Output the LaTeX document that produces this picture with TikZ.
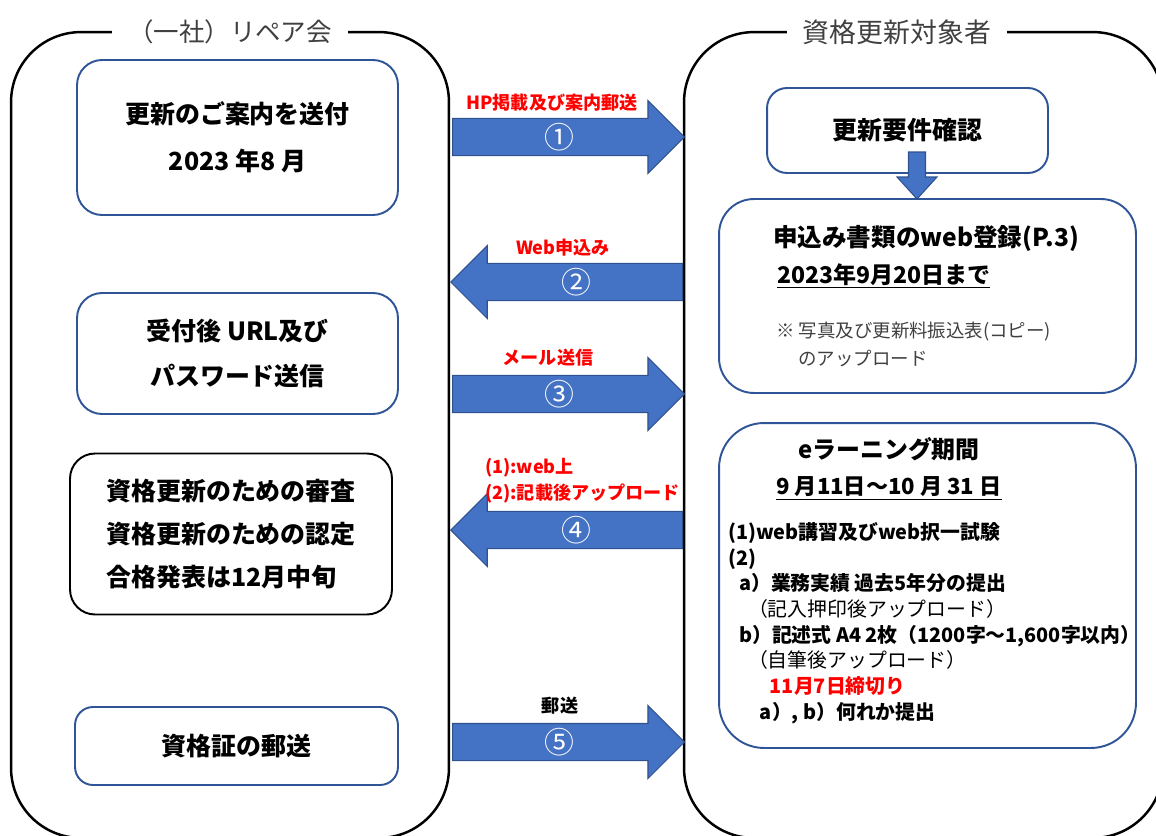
\documentclass[tikz,border=0pt]{standalone}
\usepackage{fontspec}
\setmainfont{Noto Sans CJK JP}
\usepackage{tikz}
\usetikzlibrary{shapes.arrows,positioning}
\definecolor{arrowblue}{HTML}{4472C4}
\definecolor{arrowedge}{HTML}{2F528F}
\definecolor{boxblue}{HTML}{2F5597}
\definecolor{titlegray}{HTML}{404040}
\tikzset{
    panel/.style={rectangle, draw=black, line width=1.4pt, rounded corners=1.4cm, inner sep=0pt},
    panel title/.style={fill=white, text=titlegray, inner xsep=9pt, font=\fontsize{14.5}{17}\selectfont},
    raw box/.style={rectangle, line width=1.1pt, align=center, inner sep=0pt},
    left box/.style={raw box, draw=boxblue, rounded corners=0.5cm, font=\bfseries\fontsize{14.2}{26.6}\selectfont},
    check box/.style={raw box, draw=black, rounded corners=0.5cm, align=left, font=\bfseries\fontsize{14.2}{24.6}\selectfont},
    right box/.style={raw box, draw=boxblue, rounded corners=0.4cm},
    arrow fill/.style={draw=arrowedge, fill=arrowblue, line width=0.6pt},
    block arrow/.style={single arrow, arrow fill, inner sep=0pt,
        minimum height=4.64cm, minimum width=1.46cm, single arrow head extend=0.28cm,
        text=white, font=\fontsize{17}{17}\selectfont},
    arrow note/.style={text=red, inner sep=1pt, align=left, font=\bfseries\fontsize{10.3}{14.7}\selectfont}
}
\begin{document}
\begin{tikzpicture}[x=0.02cm, y=-0.02cm]
	\useasboundingbox (0,0) rectangle (1156,835);
	\node[panel, minimum width=8.76cm, minimum height=16.12cm] (org) at (230,435) {};
	\node[panel, minimum width=9.58cm, minimum height=16.12cm] (member) at (923.5,435) {};
	\node[panel title] (orgtitle) at (230,32) {（一社）リペア会};
	\node[panel title, font=\fontsize{15.3}{17}\selectfont] (membertitle) at (897,32) {資格更新対象者};

	\node[left box, minimum width=6.42cm, minimum height=3.1cm] (notice) at (237.5,137.5) {更新のご案内を送付\\2023 年8 月};
	\node[left box, minimum width=6.42cm, minimum height=2.42cm, font=\bfseries\fontsize{14.2}{25.5}\selectfont] (password) at (237.5,353.5) {受付後 URL及び\\パスワード送信};
	\node[check box, minimum width=6.44cm, minimum height=3.22cm] (review) at (231,534) {資格更新のための審査\\資格更新のための認定\\合格発表は12月中旬};
	\node[left box, minimum width=6.46cm, minimum height=1.56cm, rounded corners=0.36cm] (mailing) at (236.5,746) {資格証の郵送};

	\node[right box, minimum width=5.62cm, minimum height=1.7cm, font=\bfseries\fontsize{14.2}{17}\selectfont] (confirm) at (907.5,130.5) {更新要件確認};
	\node[right box, minimum width=8.34cm, minimum height=3.88cm, rounded corners=0.7cm] (apply) at (927.5,296) {};
	\draw[arrow fill, shift={(917,199)}] (-8.5,-47) -- (8.5,-47) -- (8.5,-22) -- (20,-22) -- (0,0) -- (-20,-22) -- (-8.5,-22) -- cycle;
	\node[font=\bfseries\fontsize{14}{16}\selectfont] (applyhead) at (926,238) {申込み書類のweb登録(P.3)};
	\node[anchor=west, font=\bfseries\fontsize{13.1}{16}\selectfont] (applydate) at (771,276) {\underline{2023年9月20日まで}};
	\node[anchor=west, align=left, text=titlegray, font=\fontsize{10.5}{15.9}\selectfont] (applynote) at (770,344) {※ 写真及び更新料振込表(コピー)\\\hspace*{1.2em}のアップロード};

	\node[right box, minimum width=8.34cm, minimum height=6.5cm, rounded corners=0.9cm] (elearn) at (927.5,585.5) {};
	\node[align=center, font=\bfseries\fontsize{13.6}{20.4}\selectfont] (elearnhead) at (889,469) {eラーニング期間\\{\fontsize{12.6}{14}\selectfont\underline{9 月11日～10 月 31 日}}};
	\node[anchor=west, align=left, font=\bfseries\fontsize{11.3}{14.6}\selectfont] (elearnbody) at (722,623) {(1)web講習及びweb択一試験\\
		(2)\\
		\hspace*{0.55em}a）業務実績 過去5年分の提出\\
		\hspace*{1em}{\mdseries （記入押印後アップロード）}\\
		\hspace*{0.55em}b）記述式 A4 2枚（1200字～1,600字以内）\\
		\hspace*{1em}{\mdseries （自筆後アップロード）}\\
		\hspace*{2.1em}{\color{red}11月7日締切り}\\
		\hspace*{1.6em}a）, b）何れか提出};

	\node[block arrow, anchor=tail] (step1) at (452,137) {①};
	\node[block arrow, anchor=tip, shape border rotate=180] (step2) at (450,282) {②};
	\node[block arrow, anchor=tail] (step3) at (452,394) {③};
	\node[block arrow, anchor=tip, shape border rotate=180] (step4) at (450,530) {④};
	\node[block arrow, anchor=tail] (step5) at (452,742) {⑤};

	\node[arrow note] (note1) at (552,103) {HP掲載及び案内郵送};
	\node[arrow note] (note2) at (563,248) {Web申込み};
	\node[arrow note] (note3) at (548,358) {メール送信};
	\node[arrow note, anchor=west] (note4) at (483,481) {(1):web上\\(2):記載後アップロード};
	\node[arrow note, text=black] (note5) at (560,706) {郵送};
\end{tikzpicture}
\end{document}
